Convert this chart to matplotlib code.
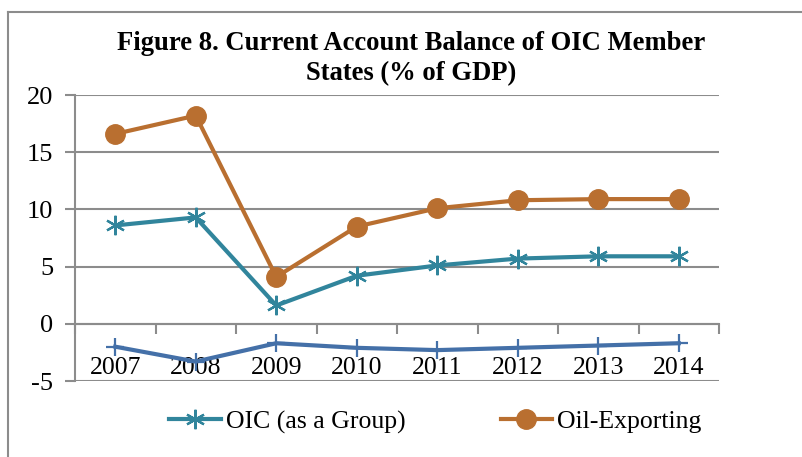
import numpy as np
import matplotlib
matplotlib.use("Agg")
import matplotlib.pyplot as plt
from matplotlib.lines import Line2D

plt.rcParams['font.family'] = ['Liberation Serif', 'DejaVu Serif']
plt.rcParams['axes.unicode_minus'] = False

years = ['2007', '2008', '2009', '2010', '2011', '2012', '2013', '2014']
oic_group = [8.6, 9.3, 1.6, 4.2, 5.1, 5.7, 5.9, 5.9]
oil_exporting = [16.6, 18.2, 4.1, 8.5, 10.1, 10.8, 10.9, 10.9]
non_oil = [-2.0, -3.3, -1.7, -2.1, -2.3, -2.1, -1.9, -1.7]

grid_col = '#8C8C8C'
teal = '#31859C'
orange = '#B96F30'
blue = '#4470A8'

fig = plt.figure(figsize=(8.02, 4.57), dpi=100)
# outer chart frame: only top and left edge are visible in the crop
fx, fy = 7.5 / 802, 1 - 12 / 457
fig.lines.append(Line2D([fx, 1.0], [fy, fy], transform=fig.transFigure,
                        color=grid_col, lw=1.5))
fig.lines.append(Line2D([fx, fx], [0.0, fy], transform=fig.transFigure,
                        color=grid_col, lw=1.5))

ax = fig.add_axes([75 / 802, 1 - 381 / 457, (719 - 75) / 802, (381 - 95) / 457])
x = np.arange(1, len(years) + 1)

ax.plot(x, non_oil, color=blue, lw=3, marker='+', ms=13, mew=1.6,
        label='_nolegend_', zorder=3)
ax.plot(x, oic_group, color=teal, lw=3, marker=(6, 2, 0), ms=14, mew=1.6,
        label='OIC (as a Group)', zorder=4)
ax.plot(x, oil_exporting, color=orange, lw=3, marker='o', ms=14,
        label='Oil-Exporting', zorder=5)

ax.set_xlim(0.5, len(years) + 0.5)
ax.set_ylim(-5, 20)
ax.set_yticks([-5, 0, 5, 10, 15, 20])
ax.yaxis.grid(True, color=grid_col, lw=1.5)
ax.set_axisbelow(True)

for s in ['top', 'right']:
    ax.spines[s].set_visible(False)
ax.spines['left'].set_color(grid_col)
ax.spines['left'].set_linewidth(1.5)
ax.spines['bottom'].set_position(('data', 0))
ax.spines['bottom'].set_color(grid_col)
ax.spines['bottom'].set_linewidth(1.5)

# tick marks at category boundaries, labels at category centres
ax.set_xticks(np.arange(0.5, len(years) + 1, 1))
ax.set_xticklabels([])
ax.set_xticks(x, minor=True)
ax.set_xticklabels(years, minor=True)
ax.tick_params(axis='x', which='major', length=7, width=1.5, color=grid_col, direction='out')
ax.tick_params(axis='x', which='minor', length=0, pad=24, labelsize=18.5)
ax.tick_params(axis='y', length=7, width=1.5, color=grid_col, labelsize=19, pad=8.5)

fig.text(0.513, 1 - 43 / 457, 'Figure 8. Current Account Balance of OIC Member',
         ha='center', va='center', fontsize=19.2, fontweight='bold')
fig.text(0.513, 1 - 74 / 457, 'States (% of GDP)',
         ha='center', va='center', fontsize=19.2, fontweight='bold')

fig.legend(loc='center left', bbox_to_anchor=(159 / 802, 1 - 422 / 457), ncol=2,
           frameon=False, fontsize=18.5, handlelength=2.0, handletextpad=0.2,
           columnspacing=3.7, borderaxespad=0)

fig.savefig('out.png', dpi=100)
